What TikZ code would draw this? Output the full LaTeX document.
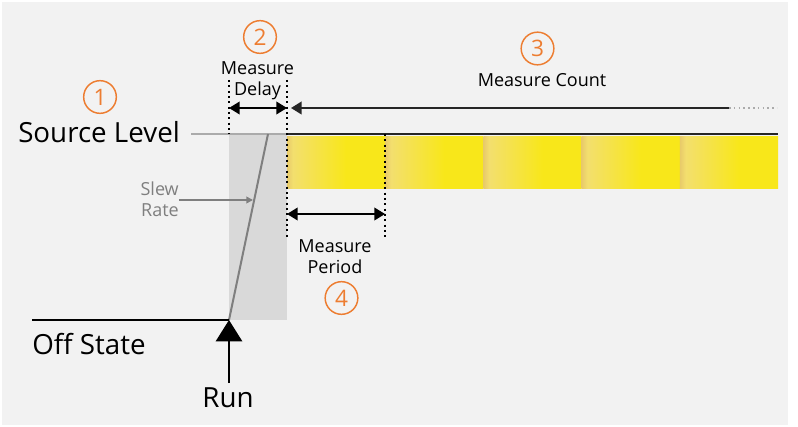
\documentclass[tikz,border=0pt]{standalone}
\usepackage{fontspec}
\setmainfont{Open Sans}
\usetikzlibrary{arrows.meta}

\begin{document}
\begin{tikzpicture}[x=0.75pt, y=-0.75pt]

%my colors
\definecolor{bggray}{HTML}{F2F2F2}
\definecolor{shadegray}{HTML}{D9D9D9}
\definecolor{rampgray}{HTML}{7F7F7F}
\definecolor{levelgray}{HTML}{ABABAB}
\definecolor{darkline}{HTML}{262626}
\definecolor{myorange}{HTML}{ED7D31}
\definecolor{blocktan}{HTML}{E8CA6A}
\definecolor{blockcream}{HTML}{F3DF6E}
\definecolor{blockyellow}{HTML}{F8E71A}
\pgfdeclarehorizontalshading{measblock}{100bp}{color(0bp)=(blocktan); color(25bp)=(blocktan); color(28bp)=(blockcream); color(55bp)=(blockyellow); color(100bp)=(blockyellow)}

\tikzset{
  numcircle/.style={circle, draw=myorange, line width=1.1pt, minimum size=24.5pt, inner sep=0pt, text=myorange, font=\fontsize{17}{17}\selectfont},
  bigtext/.style={font=\fontsize{20.8}{24}\selectfont, inner sep=0pt},
  smalltext/.style={font=\fontsize{13.5}{15.5}\selectfont, align=center, inner sep=0pt},
  dotline/.style={line width=1.5pt, dash pattern=on 1.5pt off 2.5pt},
  dimarrow/.style={{Triangle[length=8pt,width=9.5pt]}-{Triangle[length=8pt,width=9.5pt]}, line width=1.2pt},
}

    % Background
    \fill[white] (0,0) rectangle (798,427);
    \fill[bggray] (2,2) rectangle (788,425);

    % Points of the output level
    \coordinate (off) at (32,320);
    \coordinate (start) at (229,320);
    \coordinate (top) at (268,134);
    \coordinate (delayend) at (287,134);
    \coordinate (levelend) at (778,134);
    \coordinate (runbase) at (229,383);
    \coordinate (levelstart) at (191,134);

    % Tops and bottoms of the dotted markers
    \coordinate (d1top) at (229,80);
    \coordinate (d1bot) at (229,134);
    \coordinate (d2top) at (287,80);
    \coordinate (d2bot) at (287,237);
    \coordinate (d3top) at (385,134);
    \coordinate (d3bot) at (385,237);

    % Gray slew region
    \fill[shadegray] (d1bot) rectangle (start -| delayend);

    % Yellow measure blocks
    \foreach \i in {0,...,4}
      \shade[shading=measblock] ({287+98.2*\i},137) rectangle ({287+98.2*(\i+1)},189);

    % Levels and ramp
    \draw[levelgray, line width=1.5pt] (levelstart) -- (top) -- (delayend);
    \draw[rampgray, line width=1.5pt] (start) -- (top);
    \draw[darkline, line width=2pt] (delayend) -- (levelend);
    \draw[black, line width=1.5pt] (off) -- (start);

    % Labels of the levels
    \node[bigtext, anchor=base west] (srclvl) at (18,143) {Source Level};
    \node[bigtext, anchor=base west] (offst) at (32,354) {Off State};
    \node[bigtext, anchor=base] (run) at (228,407) {Run};
    \draw[-{Triangle[length=16pt,width=19.5pt]}, line width=2.2pt] (runbase) -- (start);

    % Dotted markers
    \draw[dotline] (d1top) -- (d1bot);
    \draw[dotline] (d2top) -- (d2bot);
    \draw[dotline] (d3top) -- (d3bot);

    % Measure delay, count and period
    \coordinate (delayL) at (229,108);
    \coordinate (delayR) at (287,108);
    \coordinate (countL) at (291,108);
    \coordinate (countR) at (729,108);
    \coordinate (countEnd) at (777,108);
    \coordinate (periodL) at (287,214);
    \coordinate (periodR) at (385,214);
    \draw[dimarrow] (delayL) -- (delayR);
    \draw[{Triangle[length=8pt,width=9.5pt]}-, line width=1.5pt, darkline] (countL) -- (countR);
    \draw[levelgray, line width=1.2pt, dash pattern=on 1.2pt off 2.4pt] (countR) -- (countEnd);
    \draw[dimarrow] (periodL) -- (periodR);

    \node[smalltext] (delaytxt) at (257.5,80.5) {Measure\\Delay};
    \node[smalltext] (counttxt) at (542,80) {Measure Count};
    \node[smalltext] (periodtxt) at (335,256.5) {Measure\\Period};

    % Slew rate
    \node[smalltext, text=rampgray, align=right, anchor=east] (slew) at (179,199.5) {Slew\\Rate};
    \coordinate (slewtip) at (253,200);
    \draw[rampgray, line width=1.5pt, -{Triangle[length=5pt,width=5pt]}] (slew.east |- slewtip) -- (slewtip);

    % Step numbers
    \node[numcircle] (n1) at (100,97) {1};
    \node[numcircle] (n2) at (260,37) {2};
    \node[numcircle] (n3) at (537.5,48.5) {3};
    \node[numcircle] (n4) at (341.5,298) {4};

\end{tikzpicture}
\end{document}
